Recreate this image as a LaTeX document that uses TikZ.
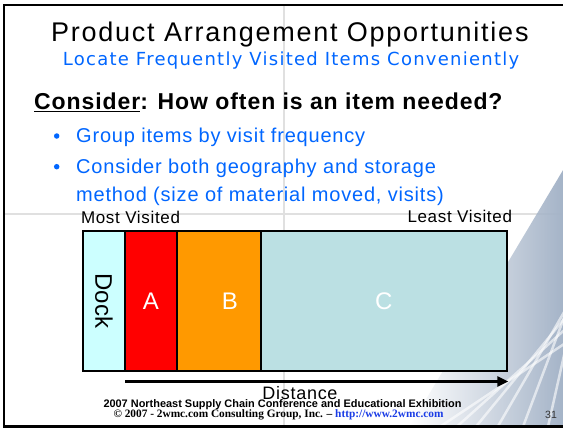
\documentclass[tikz,border=0pt]{standalone}
\usepackage{fontspec}
\usepackage{graphicx}
\setmainfont{Liberation Sans}
\newfontfamily\ttlfont[LetterSpace=6.5]{Liberation Sans}
\newfontfamily\subfont[LetterSpace=7]{DejaVu Sans}
\newfontfamily\bodyfont[LetterSpace=4]{Liberation Sans}
\newfontfamily\serifb{Liberation Serif}
\usetikzlibrary{arrows.meta,fadings}
\definecolor{txtblue}{HTML}{0066FF}
\definecolor{dockc}{HTML}{CCFFFF}
\definecolor{cellA}{HTML}{FF0000}
\definecolor{cellB}{HTML}{FF9900}
\definecolor{cellC}{HTML}{BBE0E3}
\definecolor{linkblue}{HTML}{1A3CE6}
\definecolor{bgtex}{RGB}{165,180,200}
\tikzset{
  txt/.style={inner sep=0pt, anchor=base west},
  cellbox/.style={draw=black, line width=2pt, inner sep=0pt},
  celllabel/.style={inner sep=0pt, text=white, font=\fontsize{24}{28}\selectfont},
  bulletdot/.style={circle, fill=txtblue, inner sep=0pt, minimum size=5.5pt},
  bgline/.style={draw=black!12, line width=1.2pt},
  distarrow/.style={line width=3.5pt, -{Triangle[length=11pt,width=10pt]}},
}
\begin{document}
\begin{tikzpicture}[x=1pt,y=-1pt]
\useasboundingbox (0,0) rectangle (563,429);
% faint background template
\fill[white] (0,0) rectangle (563,429);
\draw[bgline] (284,6) -- (284,426);
\draw[bgline] (5,214) -- (563,214);
\fill[bgtex, path fading=west] (563,170) -- (563,426) -- (410,426) -- cycle;
\begin{scope}
\clip (563,170) -- (563,426) -- (410,426) -- cycle;
\foreach \o in {0,22,45,70,98,125,155,190,225}{
  \draw[white, line width=2.5pt, opacity=0.6] (420+\o,440) -- (600,320-\o);
}
\end{scope}
% border
\draw[black, line width=2.5pt] (563,5) -- (4,5) -- (4,426.5) -- (563,426.5);
% titles
\node[txt] (title) at (51,41) {\fontsize{27}{32}\ttlfont Product Arrangement Opportunities};
\node[txt, text=txtblue] (subtitle) at (62.7,65) {\fontsize{18}{22}\subfont Locate Frequently Visited Items Conveniently};
\node[txt] (consider) at (34,109.3) {\fontsize{23}{28}\bodyfont\bfseries \underline{Consider}: How often is an item needed?};
% bullets
\node[bulletdot] (b1) at (56.7,136) {};
\node[bulletdot] (b2) at (56.7,166.7) {};
\node[txt, text=txtblue] (l1) at (76,142.7) {\fontsize{20}{24}\bodyfont Group items by visit frequency};
\node[txt, text=txtblue] (l2) at (76,173.3) {\fontsize{20}{24}\bodyfont Consider both geography and storage};
\node[txt, text=txtblue] (l3) at (76,201) {\fontsize{20}{24}\bodyfont method (size of material moved, visits)};
% axis labels
\node[txt] (most) at (80.8,223) {\fontsize{17}{20}\bodyfont Most Visited};
\node[txt] (least) at (407.3,222.7) {\fontsize{17}{20}\bodyfont Least Visited};
% cells
\node[cellbox, fill=dockc, minimum width=42.3pt, minimum height=139.7pt] (dock) at (103.85,300.85) {};
\node[cellbox, fill=cellA, minimum width=51.7pt, minimum height=139.7pt] (ca) at (150.85,300.85) {};
\node[cellbox, fill=cellB, minimum width=84.3pt, minimum height=139.7pt] (cb) at (218.85,300.85) {};
\node[cellbox, fill=cellC, minimum width=245.7pt, minimum height=139.7pt] (cc) at (383.85,300.85) {};
\node[inner sep=0pt, rotate=-90, font=\fontsize{24}{28}\selectfont] (docklbl) at (dock.center) {Dock};
\node[celllabel] (alabel) at (ca.center) {A};
\node[celllabel] (blabel) at (230,300.85) {B};
\node[celllabel] (clabel) at (cc.center) {C};
% distance arrow
\coordinate (arrS) at (125,381.5);
\coordinate (arrE) at (508.3,381.5);
\draw[distarrow] (arrS) -- (arrE);
\node[inner sep=0pt, anchor=base] (dist) at (300,399) {\fontsize{18}{22}\bodyfont Distance};
% footer
\node[txt] (foot1) at (103.3,407.3) {\resizebox{358pt}{!}{\bfseries 2007 Northeast Supply Chain Conference and Educational Exhibition}};
\node[txt] (foot2) at (113.3,417.7) {\resizebox{330pt}{!}{\serifb\bfseries © 2007 - 2wmc.com Consulting Group, Inc. – \textcolor{linkblue}{http://www.2wmc.com}}};
\node[txt, text=black!80] (pg) at (545,418.3) {\fontsize{10.5}{12}\selectfont 31};
\end{tikzpicture}
\end{document}
